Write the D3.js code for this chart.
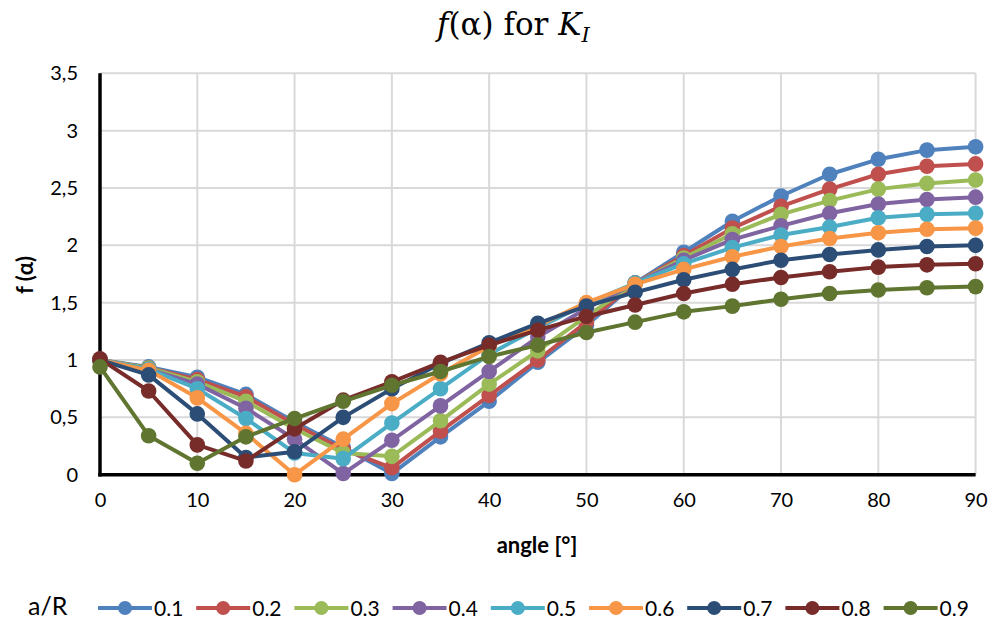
<!DOCTYPE html>
<html>
<head>
<meta charset="utf-8">
<script src="https://cdn.jsdelivr.net/npm/d3@7"></script>
<style>
  html, body { margin: 0; padding: 0; background: #fff; }
  svg { display: block; }
</style>
</head>
<body>
<svg id="chart" width="989" height="622"></svg>
<script>
const angles = [0, 5, 10, 15, 20, 25, 30, 35, 40, 45, 50, 55, 60, 65, 70, 75, 80, 85, 90];
const seriesNames = ["0.1", "0.2", "0.3", "0.4", "0.5", "0.6", "0.7", "0.8", "0.9"];
const s01 = [1.00, 0.94, 0.85, 0.70, 0.46, 0.24, 0.01, 0.33, 0.64, 0.98, 1.30, 1.67, 1.94, 2.21, 2.43, 2.62, 2.75, 2.83, 2.86];
const s02 = [1.00, 0.93, 0.83, 0.68, 0.44, 0.22, 0.06, 0.38, 0.69, 1.00, 1.33, 1.67, 1.91, 2.15, 2.34, 2.49, 2.62, 2.69, 2.71];
const s03 = [1.00, 0.93, 0.81, 0.64, 0.40, 0.19, 0.16, 0.47, 0.79, 1.08, 1.38, 1.67, 1.89, 2.10, 2.27, 2.39, 2.49, 2.54, 2.57];
const s04 = [1.00, 0.92, 0.79, 0.58, 0.31, 0.01, 0.30, 0.60, 0.90, 1.20, 1.45, 1.67, 1.87, 2.05, 2.17, 2.28, 2.36, 2.40, 2.42];
const s05 = [1.00, 0.92, 0.75, 0.49, 0.19, 0.14, 0.45, 0.75, 1.05, 1.28, 1.49, 1.67, 1.84, 1.98, 2.09, 2.16, 2.24, 2.27, 2.28];
const s06 = [1.00, 0.91, 0.67, 0.36, 0.00, 0.31, 0.62, 0.88, 1.12, 1.30, 1.50, 1.66, 1.79, 1.90, 1.99, 2.06, 2.11, 2.14, 2.15];
const s07 = [1.00, 0.87, 0.53, 0.15, 0.20, 0.50, 0.75, 0.97, 1.15, 1.32, 1.47, 1.59, 1.70, 1.79, 1.87, 1.92, 1.96, 1.99, 2.00];
const s08 = [1.01, 0.73, 0.26, 0.12, 0.40, 0.65, 0.81, 0.98, 1.13, 1.26, 1.38, 1.48, 1.58, 1.66, 1.72, 1.77, 1.81, 1.83, 1.84];
const s09 = [0.94, 0.34, 0.10, 0.33, 0.49, 0.64, 0.78, 0.90, 1.03, 1.13, 1.24, 1.33, 1.42, 1.47, 1.53, 1.58, 1.61, 1.63, 1.64];
const seriesValues = [s01, s02, s03, s04, s05, s06, s07, s08, s09];
const colors = ["#4F81BD", "#C0504D", "#9BBB59", "#8064A2", "#4BACC6", "#F79646", "#2C4D75", "#772C2A", "#5F7530"];
const xTicks = [0, 10, 20, 30, 40, 50, 60, 70, 80, 90];
const yTicks = [0, 0.5, 1, 1.5, 2, 2.5, 3, 3.5];

const svg = d3.select("#chart");
const pLeft = 100, pRight = 975.6, pTop = 73.3, pBottom = 474.7;
const x = d3.scaleLinear().domain([0, 90]).range([pLeft, pRight]);
const y = d3.scaleLinear().domain([0, 3.5]).range([pBottom, pTop]);
const labelFont = "Lato, 'Open Sans', sans-serif";

// gridlines
const grid = svg.append("g");
grid.selectAll("line.h").data(yTicks).join("line").attr("class", "h")
  .attr("x1", pLeft).attr("x2", pRight)
  .attr("y1", d => y(d)).attr("y2", d => y(d))
  .attr("stroke", "#d9d9d9").attr("stroke-width", 2);
grid.selectAll("line.v").data(xTicks).join("line").attr("class", "v")
  .attr("x1", d => x(d)).attr("x2", d => x(d))
  .attr("y1", pTop).attr("y2", pBottom)
  .attr("stroke", "#d9d9d9").attr("stroke-width", 2);

// axes
const fmt = d => String(d).replace(".", ",");
const xAxis = svg.append("g").attr("transform", `translate(0,${pBottom})`)
  .call(d3.axisBottom(x).tickValues(xTicks).tickSize(0).tickPadding(26).tickFormat(d3.format("d")));
const yAxis = svg.append("g").attr("transform", `translate(${pLeft},0)`)
  .call(d3.axisLeft(y).tickValues(yTicks).tickSize(0).tickPadding(22).tickFormat(fmt));
[xAxis, yAxis].forEach(g => {
  g.select(".domain").attr("stroke", "#000").attr("stroke-width", 3.5);
  g.selectAll("text").attr("font-family", labelFont).attr("font-size", 20).attr("fill", "#000");
});
xAxis.selectAll(".tick text").attr("dy", "0.3em");
xAxis.select(".domain").attr("d", `M${pLeft - 1.75},0H${pRight}`);
yAxis.select(".domain").attr("d", `M0,${pTop}V${pBottom + 1.75}`);

// series
const line = d3.line().x((d, i) => x(angles[i])).y(d => y(d));
seriesValues.forEach((vals, k) => {
  const g = svg.append("g");
  g.append("path").datum(vals).attr("d", line)
    .attr("fill", "none").attr("stroke", colors[k]).attr("stroke-width", 4).attr("stroke-linejoin", "round");
  g.selectAll("circle").data(vals).join("circle")
    .attr("cx", (d, i) => x(angles[i])).attr("cy", d => y(d)).attr("r", 7.8)
    .attr("fill", colors[k]);
});

// title
const title = svg.append("text").attr("x", 437).attr("y", 35)
  .attr("font-family", "'DejaVu Serif', serif").attr("font-size", 31).attr("fill", "#000");
title.append("tspan").attr("font-style", "italic").text("f");
title.append("tspan").text("(α) for ");
title.append("tspan").attr("font-style", "italic").text("K");
title.append("tspan").attr("font-style", "italic").attr("font-size", 21).attr("dy", 7).text("I");

// axis titles
svg.append("text").attr("x", 537).attr("y", 553).attr("text-anchor", "middle")
  .attr("font-family", labelFont).attr("font-weight", "bold").attr("font-size", 22).text("angle [°]");
svg.append("text").attr("transform", "translate(33,275) rotate(-90)").attr("text-anchor", "middle")
  .attr("font-family", labelFont).attr("font-weight", "bold").attr("font-size", 22).text("f (α)");

// legend
svg.append("text").attr("x", 28).attr("y", 615).attr("font-family", labelFont).attr("font-size", 25).text("a/R");
const leg = svg.append("g");
seriesNames.forEach((name, k) => {
  const x0 = 98 + k * 98.2;
  const g = leg.append("g").attr("transform", `translate(${x0},608)`);
  g.append("line").attr("x1", 0).attr("x2", 54).attr("stroke", colors[k]).attr("stroke-width", 4);
  g.append("circle").attr("cx", 27).attr("r", 7).attr("fill", colors[k]);
  g.append("text").attr("x", 56).attr("y", 7.5).attr("font-family", labelFont).attr("font-size", 21).text(name);
});
</script>
</body>
</html>
